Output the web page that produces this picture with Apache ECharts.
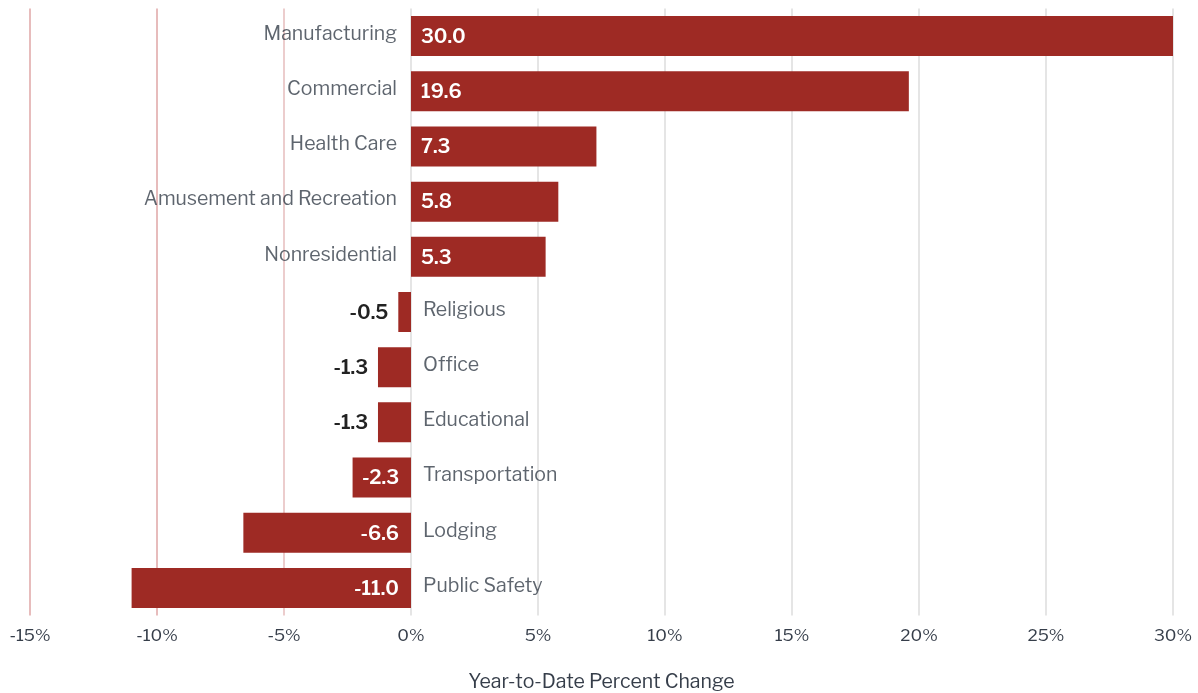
<!DOCTYPE html>
<html>
<head>
<meta charset="utf-8">
<script src="https://cdn.jsdelivr.net/npm/echarts@6/dist/echarts.min.js"></script>
<style>
html,body{margin:0;padding:0;background:#fff;}
#chart{width:1198px;height:693px;}
</style>
</head>
<body>
<div id="chart"></div>
<script>
const categories = ['Manufacturing','Commercial','Health Care','Amusement and Recreation','Nonresidential','Religious','Office','Educational','Transportation','Lodging','Public Safety'];
const values = [30.0, 19.6, 7.3, 5.8, 5.3, -0.5, -1.3, -1.3, -2.3, -6.6, -11.0];
const xTicks = [-15, -10, -5, 0, 5, 10, 15, 20, 25, 30];
const axisTitle = 'Year-to-Date Percent Change';

const FONT = '"Libre Franklin", "Noto Sans", "Open Sans", sans-serif';
const BAR = '#9e2a24';
const TXT = '#363e4a';

const chart = echarts.init(document.getElementById('chart'), null, {renderer:'canvas'});

const barData = values.map(v => {
  let label;
  if (v >= 0) {
    label = {position:'insideLeft', distance:10, color:'#fff'};
  } else if (v > -2) {
    label = {position:'left', distance:10, color:'#222'};
  } else {
    label = {position:'insideRight', distance:12, color:'#fff'};
  }
  return {value: v, label};
});

const nameData = categories.map((c, i) => ({
  value: [0, c],
  label: {
    show: true,
    position: values[i] >= 0 ? 'left' : 'right',
    distance: values[i] >= 0 ? 14 : 12,
    formatter: c
  }
}));

const splitColors = xTicks.map(t => t < 0 ? (t === -5 ? '#e6bcbc' : '#dfa6a6') : '#dcdcdc');

chart.setOption({
  animation: false,
  grid: {left: 30, right: 25, top: 8.5, bottom: 77.5, containLabel: false, outerBoundsMode: 'none'},
  xAxis: {
    type: 'value',
    min: -15, max: 30, interval: 5,
    axisLine: {show: false},
    axisTick: {show: false},
    splitLine: {show: true, lineStyle: {color: splitColors, width: 1.5}},
    axisLabel: {formatter: '{value}%', color: TXT, fontSize: 17, fontFamily: FONT, margin: 12},
    name: axisTitle,
    nameLocation: 'middle',
    nameGap: 57,
    nameTextStyle: {color: TXT, fontSize: 19.5, fontFamily: FONT}
  },
  yAxis: {
    type: 'category',
    data: categories,
    inverse: true,
    axisLine: {show: false},
    axisTick: {show: false},
    axisLabel: {show: false},
    splitLine: {show: false}
  },
  series: [
    {
      type: 'bar',
      data: barData,
      barWidth: 40,
      itemStyle: {color: BAR},
      label: {show: true, fontSize: 19.5, fontWeight: 600, fontFamily: FONT, formatter: p => p.value.toFixed(1), offset: [0, 1]},
      z: 3
    },
    {
      type: 'scatter',
      data: nameData,
      symbolSize: 0,
      label: {show: true, color: TXT, fontSize: 19.5, fontFamily: FONT, offset: [0, -2]},
      silent: true,
      z: 4
    }
  ]
});
</script>
</body>
</html>
